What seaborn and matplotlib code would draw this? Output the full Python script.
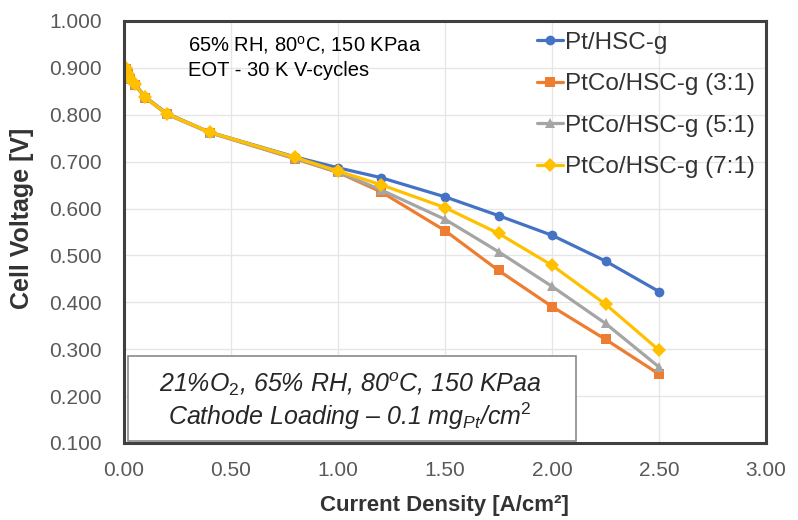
import pandas as pd
import numpy as np
import seaborn as sns
import matplotlib.pyplot as plt
from matplotlib.patches import Rectangle

# data
current = [0.01, 0.02, 0.03, 0.05, 0.1, 0.2, 0.4, 0.8, 1.0, 1.2, 1.5, 1.75, 2.0, 2.25, 2.5]
pt_hsc = [0.900, 0.888, 0.878, 0.866, 0.838, 0.803, 0.763, 0.710, 0.687, 0.666, 0.625, 0.585, 0.543, 0.488, 0.423]
ptco_31 = [0.898, 0.886, 0.876, 0.864, 0.836, 0.801, 0.762, 0.706, 0.677, 0.636, 0.553, 0.468, 0.391, 0.321, 0.247]
ptco_51 = [0.899, 0.887, 0.877, 0.865, 0.837, 0.802, 0.762, 0.707, 0.678, 0.640, 0.577, 0.508, 0.434, 0.355, 0.262]
ptco_71 = [0.899, 0.887, 0.877, 0.865, 0.837, 0.802, 0.763, 0.709, 0.680, 0.651, 0.602, 0.547, 0.479, 0.396, 0.298]

names = ["Pt/HSC-g", "PtCo/HSC-g (3:1)", "PtCo/HSC-g (5:1)", "PtCo/HSC-g (7:1)"]
colors = ["#4472C4", "#ED7D31", "#A5A5A5", "#FFC000"]
markers = ["o", "s", "^", "D"]

x_ticks = [0.0, 0.5, 1.0, 1.5, 2.0, 2.5, 3.0]
y_ticks = [0.1, 0.2, 0.3, 0.4, 0.5, 0.6, 0.7, 0.8, 0.9, 1.0]

frames = []
for name, vals in zip(names, [pt_hsc, ptco_31, ptco_51, ptco_71]):
    frames.append(pd.DataFrame({"current": current, "voltage": vals, "sample": name}))
df = pd.concat(frames, ignore_index=True)

sns.set_style("white")
plt.rcParams['font.family'] = ['Liberation Sans', 'DejaVu Sans']
plt.rcParams['mathtext.fontset'] = 'custom'
plt.rcParams['mathtext.it'] = 'Liberation Sans:italic'
plt.rcParams['mathtext.rm'] = 'Liberation Sans'

fig = plt.figure(figsize=(7.98, 5.2), dpi=100)
ax = fig.add_axes([124 / 798, 1 - 443 / 520, 642 / 798, 422 / 520])

sns.lineplot(data=df, x="current", y="voltage", hue="sample", style="sample",
             palette=dict(zip(names, colors)), markers=dict(zip(names, markers)),
             dashes=False, linewidth=2.3, markersize=7, markeredgewidth=0,
             sort=False, ax=ax)

ax.set_xlim(0, 3.0)
ax.set_ylim(0.1, 1.0)
ax.set_xticks(x_ticks)
ax.set_yticks(y_ticks)
ax.set_xticklabels([f"{v:.2f}" for v in x_ticks], fontsize=15, color="#595959")
ax.set_yticklabels([f"{v:.3f}" for v in y_ticks], fontsize=15, color="#595959")
ax.tick_params(axis="x", length=0, pad=13)
ax.tick_params(axis="y", length=0, pad=16)
ax.grid(True, color="#e6e6e6", linewidth=1)
for s in ax.spines.values():
    s.set_color("#404040")
    s.set_linewidth(2.2)

ax.set_xlabel("")
ax.set_ylabel("")
fig.text(444 / 798, 1 - 505 / 520, "Current Density [A/cm²]", fontsize=16,
         fontweight="bold", color="#333333", ha="center", va="center")
fig.text(22 / 798, 1 - 218 / 520, "Cell Voltage [V]", fontsize=18, rotation=90,
         fontweight="bold", color="#333333", ha="center", va="center")

ax.legend(loc="upper right", frameon=False, fontsize=17.5, handlelength=1.05,
          handletextpad=0.1, labelspacing=0.8, borderaxespad=0.15,
          borderpad=0.3, labelcolor="#333333")

ax.text(0.1, 0.915, "65% RH, 80$^{\\mathrm{o}}$C, 150 KPaa\nEOT - 30 K V-cycles",
        fontsize=14.5, color="black", va="center", ha="left", transform=ax.transAxes,
        linespacing=1.3)

# condition box at lower left
ax.add_patch(Rectangle((0.006, 0.005), 0.698, 0.201, transform=ax.transAxes,
                       facecolor="white", edgecolor="#8a8a8a", linewidth=1.2, zorder=5))
ax.text(0.352, 0.121, "21%O$_2$, 65% RH, 80$^{o}$C, 150 KPaa",
        fontsize=18, style="italic", ha="center", va="baseline",
        transform=ax.transAxes, zorder=6)
ax.text(0.352, 0.043, "Cathode Loading – 0.1 mg$_{Pt}$/cm$^2$",
        fontsize=18, style="italic", ha="center", va="baseline",
        transform=ax.transAxes, zorder=6)

fig.savefig("out.png", dpi=100)
